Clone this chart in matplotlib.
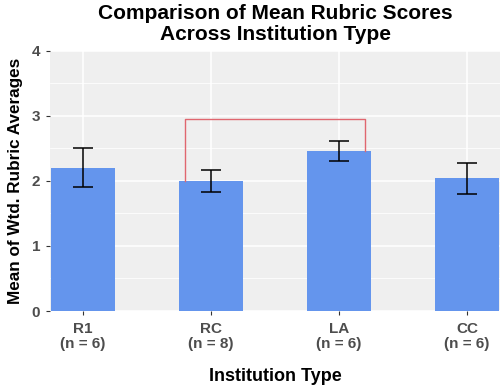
import matplotlib
matplotlib.use("Agg")
import matplotlib.pyplot as plt
import numpy as np

plt.rcParams["font.family"] = ["Liberation Sans", "DejaVu Sans"]

categories = ["R1", "RC", "LA", "CC"]
n_counts = [6, 8, 6, 6]
means = [2.20, 2.00, 2.46, 2.04]
errors = [0.30, 0.17, 0.16, 0.24]
bracket_pair = (1, 2)
bracket_height = 2.96

x = np.arange(len(categories))
tick_labels = [f"{c}\n(n = {n})" for c, n in zip(categories, n_counts)]

fig = plt.figure(figsize=(5.0, 3.86), dpi=100)
ax = fig.add_axes([0.1, 0.1943, 0.9, 0.6736])

ax.set_facecolor("#EFEFEF")
ax.bar(x, means, width=0.5, color="#6495ED", zorder=3)

# error bars with caps
cap = 0.075
ax.vlines(x, np.array(means) - errors, np.array(means) + errors,
          color="black", lw=1.1, zorder=4)
ax.hlines(np.array(means) - errors, x - cap, x + cap, color="black", lw=1.1, zorder=4)
ax.hlines(np.array(means) + errors, x - cap, x + cap, color="black", lw=1.1, zorder=4)

# significance bracket
a, b = bracket_pair
xa, xb = x[a] - 0.2, x[b] + 0.2
ax.plot([xa, xa, xb, xb], [means[a], bracket_height, bracket_height, means[b]],
        color="#E0666F", lw=1.0, zorder=5)

ax.set_xlim(-0.258, 3.258)
ax.set_ylim(0, 4)
ax.set_yticks([0, 1, 2, 3, 4])
ax.set_yticks([0.5, 1.5, 2.5, 3.5], minor=True)
ax.set_xticks(x)
ax.set_xticklabels(tick_labels, linespacing=1.1)

ax.grid(which="major", color="white", lw=1.1, zorder=0)
ax.grid(which="minor", axis="y", color="white", lw=0.55, zorder=0)
ax.set_axisbelow(True)
for s in ax.spines.values():
    s.set_visible(False)

ax.tick_params(axis="both", which="major", length=3, width=0.8, color="#333333",
               labelcolor="#4D4D4D", labelsize=11, pad=4)
ax.tick_params(axis="x", which="major", pad=5)
ax.tick_params(axis="both", which="minor", length=0)
for lab in ax.get_xticklabels() + ax.get_yticklabels():
    lab.set_fontweight("bold")

ax.set_xlabel("Institution Type", fontsize=13, fontweight="bold", labelpad=12)
ax.set_ylabel("Mean of Wtd. Rubric Averages", fontsize=12.3, fontweight="bold", labelpad=6)
ax.set_title("Comparison of Mean Rubric Scores\nAcross Institution Type",
             fontsize=15, fontweight="bold", pad=8, linespacing=1.12)

fig.savefig("out.png", dpi=100)
